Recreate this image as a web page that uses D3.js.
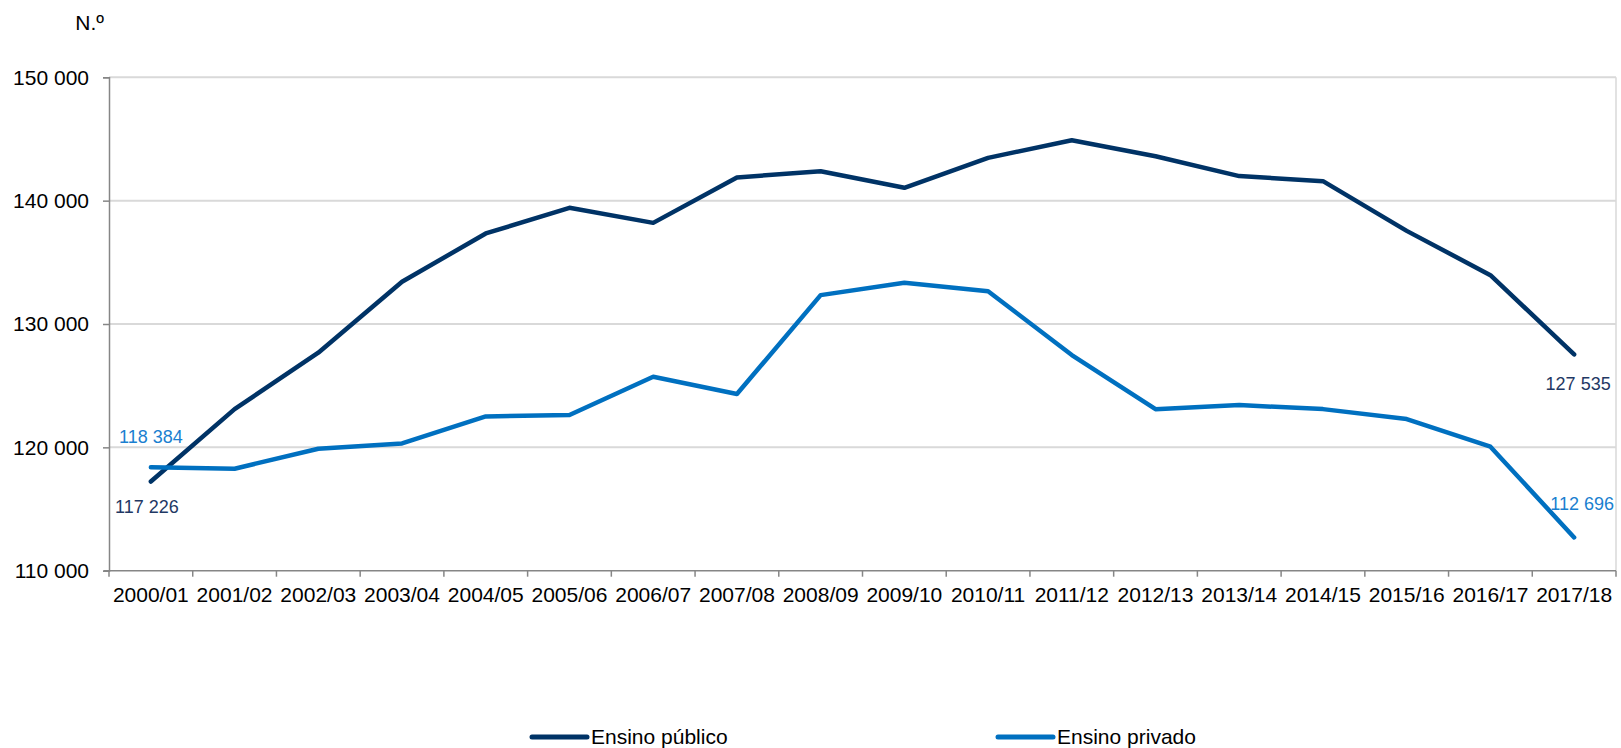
<!DOCTYPE html>
<html>
<head>
<meta charset="utf-8">
<script src="https://cdn.jsdelivr.net/npm/d3@7"></script>
<style>
  html, body { margin: 0; padding: 0; background: #ffffff; }
  svg { display: block; font-family: "Liberation Sans", Arial, sans-serif; }
</style>
</head>
<body>
<svg id="chart" width="1621" height="748"></svg>
<script>
const categories = ["2000/01","2001/02","2002/03","2003/04","2004/05","2005/06","2006/07","2007/08","2008/09","2009/10","2010/11","2011/12","2012/13","2013/14","2014/15","2015/16","2016/17","2017/18"];
const publicValues  = [117226,123100,127670,133420,137340,139420,138200,141880,142390,141040,143470,144900,143600,141990,141580,137550,133960,127535];
const privateValues = [118384,118270,119890,120320,122510,122620,125720,124320,132340,133340,132660,127480,123090,123430,123100,122290,120050,112696];
const yTicks = [110000,120000,130000,140000,150000];
const seriesNames = ["Ensino público","Ensino privado"];
const yUnit = "N.º";

(function () {
const colors = { pub: "#003366", priv: "#0070c0" };
const fmt = v => d3.format(",")(v).replace(/,/g, " ");

const svg = d3.select("#chart");
const mLeft = 109, mRight = 1616, mTop = 77.3, mBottom = 570.7;

const x = d3.scaleBand().domain(categories).range([mLeft, mRight]).paddingInner(0).paddingOuter(0);
const y = d3.scaleLinear().domain([110000, 150000]).range([mBottom, mTop]);
const cx = c => x(c) + x.bandwidth() / 2;

// gridlines
svg.append("g").selectAll("line").data(yTicks.filter(t => t > 110000)).join("line")
  .attr("x1", mLeft).attr("x2", mRight)
  .attr("y1", d => y(d)).attr("y2", d => y(d))
  .attr("stroke", "#d9d9d9").attr("stroke-width", 2);
// right border
svg.append("line").attr("x1", mRight).attr("x2", mRight).attr("y1", mTop).attr("y2", mBottom)
  .attr("stroke", "#d9d9d9").attr("stroke-width", 1.5);

// y axis
const yAxis = d3.axisLeft(y).tickValues(yTicks).tickSize(6).tickPadding(14).tickFormat(fmt);
const gy = svg.append("g").attr("transform", `translate(${mLeft},0)`).call(yAxis);
gy.select(".domain").attr("stroke", "#868686").attr("stroke-width", 1.5);
gy.selectAll(".tick line").attr("stroke", "#868686").attr("stroke-width", 1.5);
gy.selectAll(".tick text").attr("font-size", 21).attr("fill", "#000").attr("font-family", "Liberation Sans, Arial, sans-serif");

// x axis
const xTickScale = d3.scaleLinear().domain([0, categories.length]).range([mLeft, mRight]);
const xAxisG = svg.append("g").attr("transform", `translate(0,${mBottom})`);
xAxisG.append("line").attr("x1", mLeft - 5).attr("x2", mRight).attr("y1", 0).attr("y2", 0)
  .attr("stroke", "#868686").attr("stroke-width", 1.5);
xAxisG.selectAll("line.tk").data(d3.range(categories.length + 1)).join("line").attr("class", "tk")
  .attr("x1", d => xTickScale(d)).attr("x2", d => xTickScale(d)).attr("y1", 0).attr("y2", 6)
  .attr("stroke", "#868686").attr("stroke-width", 1.5);
xAxisG.selectAll("text").data(categories).join("text")
  .attr("x", d => cx(d)).attr("y", 31).attr("text-anchor", "middle")
  .attr("font-size", 21).attr("fill", "#000").text(d => d);

// unit label
svg.append("text").attr("x", 104).attr("y", 30).attr("text-anchor", "end")
  .attr("font-size", 21).attr("fill", "#000").text(yUnit);

// lines
const line = d3.line().x((d, i) => cx(categories[i])).y(d => y(d));
svg.append("path").datum(publicValues).attr("d", line).attr("fill", "none")
  .attr("stroke", colors.pub).attr("stroke-width", 4.5).attr("stroke-linejoin", "round").attr("stroke-linecap", "round");
svg.append("path").datum(privateValues).attr("d", line).attr("fill", "none")
  .attr("stroke", colors.priv).attr("stroke-width", 4.5).attr("stroke-linejoin", "round").attr("stroke-linecap", "round");

// data labels
const last = categories.length - 1;
const labels = [
  { v: publicValues[0],  c: categories[0],    dx: -4, dy: 31, color: "#1f3864" },
  { v: privateValues[0], c: categories[0],    dx: 0,  dy: -24, color: "#1a7fd0" },
  { v: publicValues[last],  c: categories[last], dx: 4, dy: 36, color: "#1f3864" },
  { v: privateValues[last], c: categories[last], dx: 8, dy: -27, color: "#1a7fd0" }
];
svg.append("g").selectAll("text").data(labels).join("text")
  .attr("x", d => cx(d.c) + d.dx).attr("y", d => y(d.v) + d.dy)
  .attr("text-anchor", "middle").attr("font-size", 18).attr("fill", d => d.color)
  .text(d => fmt(d.v));

// legend
const legend = [
  { name: seriesNames[0], color: colors.pub, x1: 532, x2: 587 },
  { name: seriesNames[1], color: colors.priv, x1: 998, x2: 1053 }
];
const lg = svg.append("g");
lg.selectAll("line").data(legend).join("line")
  .attr("x1", d => d.x1).attr("x2", d => d.x2).attr("y1", 737).attr("y2", 737)
  .attr("stroke", d => d.color).attr("stroke-width", 5).attr("stroke-linecap", "round");
lg.selectAll("text").data(legend).join("text")
  .attr("x", d => d.x2 + 4).attr("y", 744).attr("font-size", 21).attr("fill", "#000")
  .text(d => d.name);
})();
</script>
</body>
</html>
